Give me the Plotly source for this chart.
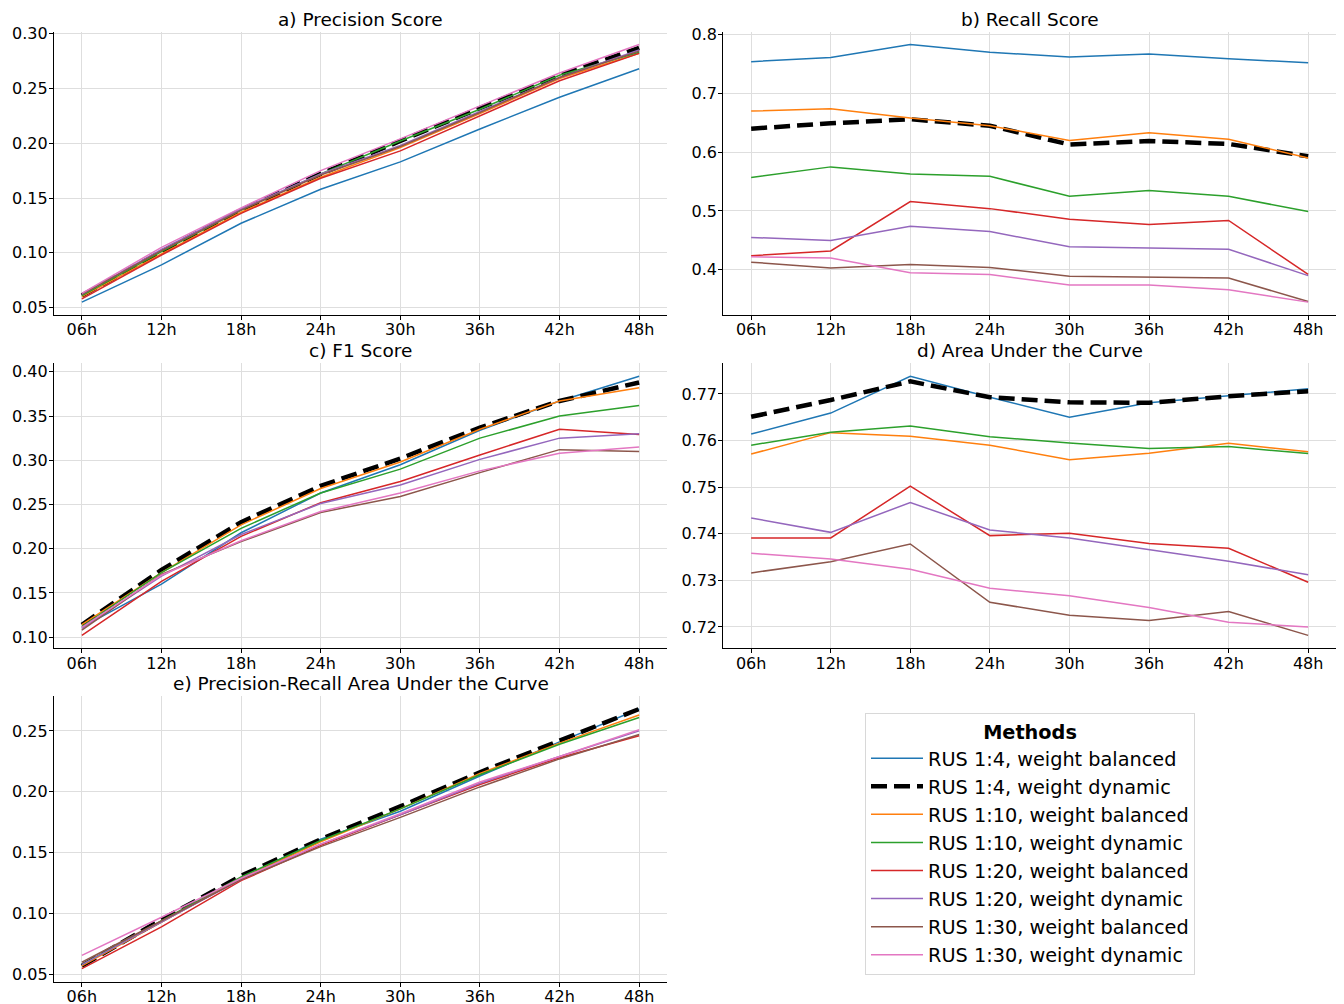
import plotly.graph_objects as go

# Forecast horizons shown on every x axis
horizons = ["06h", "12h", "18h", "24h", "30h", "36h", "42h", "48h"]

methods = [
    "RUS 1:4, weight balanced",
    "RUS 1:4, weight dynamic",
    "RUS 1:10, weight balanced",
    "RUS 1:10, weight dynamic",
    "RUS 1:20, weight balanced",
    "RUS 1:20, weight dynamic",
    "RUS 1:30, weight balanced",
    "RUS 1:30, weight dynamic",
]

# a) Precision
precision_r4_bal = [0.055, 0.089, 0.127, 0.158, 0.183, 0.213, 0.242, 0.268]
precision_r4_dyn = [0.061, 0.101, 0.139, 0.172, 0.202, 0.232, 0.262, 0.287]
precision_r10_bal = [0.060, 0.099, 0.137, 0.169, 0.196, 0.227, 0.259, 0.282]
precision_r10_dyn = [0.061, 0.101, 0.139, 0.172, 0.202, 0.231, 0.262, 0.283]
precision_r20_bal = [0.058, 0.098, 0.136, 0.168, 0.193, 0.225, 0.257, 0.282]
precision_r20_dyn = [0.062, 0.103, 0.140, 0.172, 0.198, 0.229, 0.260, 0.285]
precision_r30_bal = [0.062, 0.102, 0.139, 0.171, 0.197, 0.228, 0.260, 0.284]
precision_r30_dyn = [0.063, 0.105, 0.141, 0.175, 0.204, 0.234, 0.264, 0.290]

# b) Recall
recall_r4_bal = [0.754, 0.761, 0.783, 0.770, 0.762, 0.767, 0.759, 0.752]
recall_r4_dyn = [0.640, 0.649, 0.656, 0.645, 0.613, 0.619, 0.614, 0.593]
recall_r10_bal = [0.670, 0.674, 0.658, 0.645, 0.620, 0.633, 0.622, 0.590]
recall_r10_dyn = [0.557, 0.575, 0.563, 0.559, 0.525, 0.535, 0.525, 0.499]
recall_r20_bal = [0.424, 0.432, 0.516, 0.504, 0.486, 0.477, 0.484, 0.392]
recall_r20_dyn = [0.455, 0.450, 0.474, 0.465, 0.439, 0.437, 0.435, 0.390]
recall_r30_bal = [0.413, 0.403, 0.409, 0.404, 0.389, 0.387, 0.386, 0.346]
recall_r30_dyn = [0.422, 0.420, 0.395, 0.392, 0.374, 0.374, 0.366, 0.345]

# c) F1
f1_r4_bal = [0.111, 0.160, 0.218, 0.263, 0.295, 0.334, 0.367, 0.395]
f1_r4_dyn = [0.114, 0.176, 0.230, 0.271, 0.302, 0.337, 0.367, 0.388]
f1_r10_bal = [0.114, 0.173, 0.227, 0.268, 0.298, 0.335, 0.367, 0.382]
f1_r10_dyn = [0.112, 0.173, 0.223, 0.263, 0.290, 0.325, 0.350, 0.362]
f1_r20_bal = [0.102, 0.163, 0.214, 0.252, 0.276, 0.306, 0.335, 0.329]
f1_r20_dyn = [0.110, 0.169, 0.216, 0.251, 0.272, 0.301, 0.325, 0.330]
f1_r30_bal = [0.108, 0.171, 0.208, 0.241, 0.259, 0.286, 0.312, 0.310]
f1_r30_dyn = [0.111, 0.170, 0.209, 0.242, 0.263, 0.288, 0.308, 0.315]

# d) ROC AUC
auc_r4_bal = [0.7614, 0.7659, 0.7738, 0.7693, 0.7650, 0.7681, 0.7696, 0.7711]
auc_r4_dyn = [0.7651, 0.7687, 0.7727, 0.7693, 0.7682, 0.7681, 0.7695, 0.7706]
auc_r10_bal = [0.7571, 0.7617, 0.7609, 0.7590, 0.7559, 0.7573, 0.7594, 0.7576]
auc_r10_dyn = [0.7590, 0.7618, 0.7631, 0.7608, 0.7595, 0.7583, 0.7587, 0.7572]
auc_r20_bal = [0.7391, 0.7391, 0.7502, 0.7396, 0.7401, 0.7379, 0.7369, 0.7296]
auc_r20_dyn = [0.7434, 0.7403, 0.7467, 0.7408, 0.7391, 0.7366, 0.7341, 0.7312]
auc_r30_bal = [0.7316, 0.7340, 0.7378, 0.7253, 0.7225, 0.7214, 0.7233, 0.7182]
auc_r30_dyn = [0.7358, 0.7346, 0.7324, 0.7283, 0.7267, 0.7242, 0.7210, 0.7200]

# e) PR AUC
prauc_r4_bal = [0.058, 0.093, 0.129, 0.161, 0.184, 0.213, 0.241, 0.268]
prauc_r4_dyn = [0.057, 0.095, 0.131, 0.161, 0.188, 0.216, 0.242, 0.268]
prauc_r10_bal = [0.057, 0.093, 0.129, 0.159, 0.186, 0.215, 0.240, 0.263]
prauc_r10_dyn = [0.058, 0.094, 0.130, 0.160, 0.186, 0.214, 0.239, 0.261]
prauc_r20_bal = [0.0547, 0.089, 0.127, 0.156, 0.181, 0.206, 0.228, 0.246]
prauc_r20_dyn = [0.058, 0.093, 0.128, 0.157, 0.181, 0.207, 0.229, 0.250]
prauc_r30_bal = [0.060, 0.094, 0.128, 0.155, 0.179, 0.204, 0.227, 0.247]
prauc_r30_dyn = [0.0657, 0.097, 0.129, 0.157, 0.182, 0.208, 0.229, 0.251]

panels = [
    ("a) Precision Score", [precision_r4_bal, precision_r4_dyn, precision_r10_bal, precision_r10_dyn,
                            precision_r20_bal, precision_r20_dyn, precision_r30_bal, precision_r30_dyn]),
    ("b) Recall Score", [recall_r4_bal, recall_r4_dyn, recall_r10_bal, recall_r10_dyn,
                         recall_r20_bal, recall_r20_dyn, recall_r30_bal, recall_r30_dyn]),
    ("c) F1 Score", [f1_r4_bal, f1_r4_dyn, f1_r10_bal, f1_r10_dyn,
                     f1_r20_bal, f1_r20_dyn, f1_r30_bal, f1_r30_dyn]),
    ("d) Area Under the Curve", [auc_r4_bal, auc_r4_dyn, auc_r10_bal, auc_r10_dyn,
                                 auc_r20_bal, auc_r20_dyn, auc_r30_bal, auc_r30_dyn]),
    ("e) Precision-Recall Area Under the Curve", [prauc_r4_bal, prauc_r4_dyn, prauc_r10_bal, prauc_r10_dyn,
                                                  prauc_r20_bal, prauc_r20_dyn, prauc_r30_bal, prauc_r30_dyn]),
]

colors = ["#1f77b4", "#000000", "#ff7f0e", "#2ca02c", "#d62728", "#9467bd", "#8c564b", "#e377c2"]

W, H = 1344, 1004
FONT = "DejaVu Sans"

# Pixel boxes of the five axes: (left, right, top, bottom)
boxes = [
    (54, 667, 31.7, 315),
    (723.3, 1336, 31.7, 315),
    (54, 667, 363.3, 648.3),
    (723.3, 1336, 363.3, 648.3),
    (54, 667, 696, 981.7),
]
y_ticks = [
    ([0.05, 0.10, 0.15, 0.20, 0.25, 0.30], ".2f"),
    ([0.4, 0.5, 0.6, 0.7, 0.8], ".1f"),
    ([0.10, 0.15, 0.20, 0.25, 0.30, 0.35, 0.40], ".2f"),
    ([0.72, 0.73, 0.74, 0.75, 0.76, 0.77], ".2f"),
    ([0.05, 0.10, 0.15, 0.20, 0.25], ".2f"),
]


def padded_range(series_list, frac=0.05):
    lo = min(min(s) for s in series_list)
    hi = max(max(s) for s in series_list)
    pad = (hi - lo) * frac
    return [lo - pad, hi + pad]


fig = go.Figure()
layout = {}
annotations = []

for i, ((title, series), (l, r, t, b), (tv, fmt)) in enumerate(zip(panels, boxes, y_ticks)):
    n = "" if i == 0 else str(i + 1)
    for j, (name, vals) in enumerate(zip(methods, series)):
        dyn_black = j == 1
        fig.add_trace(go.Scatter(
            x=horizons, y=vals, mode="lines", name=name,
            line=dict(color=colors[j], width=4.5 if dyn_black else 1.5,
                      dash="16px,7px" if dyn_black else "solid"),
            xaxis="x" + n, yaxis="y" + n,
            showlegend=(i == 0), legendgroup=name,
        ))
    axis_common = dict(
        showline=True, linecolor="#000000", linewidth=1.2,
        ticks="outside", ticklen=4, tickwidth=1.2, tickcolor="#000000",
        showgrid=True, gridcolor="#dedede", gridwidth=1,
        tickfont=dict(family=FONT, size=16, color="#000000"),
        zeroline=False, automargin=False, mirror=False,
    )
    layout["xaxis" + n] = dict(
        axis_common, type="category", range=[-0.35, 7.35],
        domain=[l / W, r / W], anchor="y" + n, ticklabelstandoff=-4,
    )
    layout["yaxis" + n] = dict(
        axis_common, range=padded_range(series), tickvals=tv, tickformat=fmt,
        domain=[1 - b / H, 1 - t / H], anchor="x" + n, ticklabelstandoff=-2,
    )
    annotations.append(dict(
        text=title, xref="paper", yref="paper",
        x=(l + r) / 2 / W, y=1 - t / H, xanchor="center", yanchor="bottom",
        yshift=0, showarrow=False, font=dict(family=FONT, size=18.5, color="#000000"),
    ))

fig.update_layout(
    **layout,
    annotations=annotations,
    width=W, height=H,
    margin=dict(l=0, r=0, t=0, b=0),
    template="none",
    paper_bgcolor="#ffffff", plot_bgcolor="#ffffff",
    font=dict(family=FONT, size=16, color="#000000"),
    legend=dict(
        x=865 / W, y=1 - 713 / H, xanchor="left", yanchor="top",
        bgcolor="#ffffff", bordercolor="#d8d8d8", borderwidth=1,
        font=dict(family=FONT, size=19.3, color="#000000"),
        title=dict(text="<b>Methods</b>", side="top center",
                   font=dict(family=FONT, size=19.3, color="#000000")),
        itemwidth=52, tracegroupgap=4, traceorder="normal",
    ),
)

fig.write_html("out.html")
